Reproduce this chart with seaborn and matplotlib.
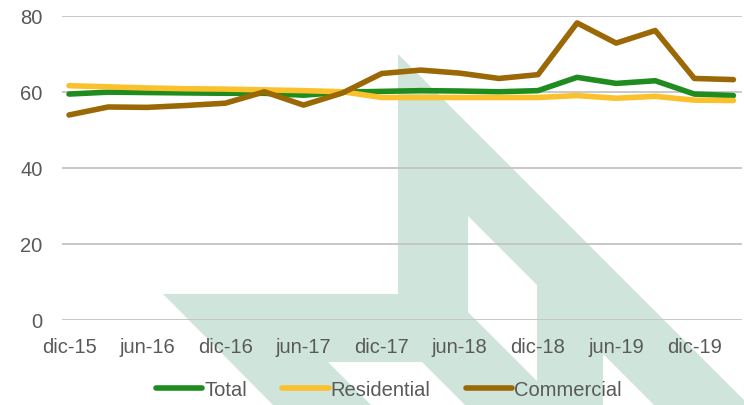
import matplotlib
matplotlib.use("Agg")
import matplotlib.pyplot as plt
import numpy as np
import pandas as pd
import seaborn as sns
from matplotlib.patches import Polygon
from matplotlib.transforms import Affine2D

# Quarterly series, Dec 2015 - Mar 2020
quarters = ["dic-15", "mar-16", "jun-16", "sep-16", "dic-16", "mar-17",
            "jun-17", "sep-17", "dic-17", "mar-18", "jun-18", "sep-18",
            "dic-18", "mar-19", "jun-19", "sep-19", "dic-19", "mar-20"]
total = [59.4, 59.9, 59.8, 59.7, 59.6, 59.6, 59.1, 59.9, 60.1, 60.3,
         60.2, 60.0, 60.3, 63.8, 62.2, 62.9, 59.4, 59.0]
residential = [61.6, 61.3, 61.0, 60.8, 60.7, 60.5, 60.3, 60.0, 58.5, 58.5,
               58.5, 58.5, 58.5, 59.0, 58.3, 58.8, 57.8, 57.7]
commercial = [53.9, 56.0, 55.9, 56.4, 57.0, 60.0, 56.5, 59.7, 64.8, 65.7,
              64.9, 63.5, 64.5, 78.1, 72.8, 76.1, 63.5, 63.2]
series_names = ["Total", "Residential", "Commercial"]
series_colors = ["#1e8c1e", "#fbc12d", "#9a6905"]
tick_labels = quarters[::2]
y_ticks = [0, 20, 40, 60, 80]

sns.set_theme(style="white")
plt.rcParams["font.family"] = ["Liberation Sans", "DejaVu Sans"]
text_color = "#595959"

W, H = 744, 406
fig = plt.figure(figsize=(W / 100, H / 100), dpi=100)
fig.patch.set_facecolor("white")

# light background logo, laid out in pixel units (origin top-left)
px = Affine2D().scale(1 / W, -1 / H).translate(0, 1) + fig.transFigure
logo_color = "#cfe5dc"
outer = [(398, 55), (749, 406), (273, 406), (163, 295), (398, 295)]
holes = [
    [(468, 217), (537, 286), (537, 382), (468, 313)],
    [(328, 363), (422, 363), (465, 406), (371, 406)],
    [(603, 355), (654, 406), (603, 406)],
]
fig.patches.append(Polygon(outer, closed=True, facecolor=logo_color,
                           edgecolor="none", transform=px, zorder=-3))
for hole in holes:
    fig.patches.append(Polygon(hole, closed=True, facecolor="white",
                               edgecolor="none", transform=px, zorder=-2))

ax = fig.add_axes([62 / W, 1 - 321 / H, (742 - 62) / W, (321 - 16.7) / H])
ax.set_facecolor("none")

n = len(quarters)
df = pd.DataFrame({
    "q": np.tile(np.arange(n), 3),
    "value": total + residential + commercial,
    "series": np.repeat(series_names, n),
})
sns.lineplot(data=df, x="q", y="value", hue="series", hue_order=series_names,
             palette=series_colors, linewidth=4, ax=ax, legend=False,
             sort=False, solid_capstyle="round", solid_joinstyle="round",
             zorder=3)

ax.set_xlim(-0.18, n - 1 + 0.22)
ax.set_ylim(0, 80)
ax.set_yticks(y_ticks)
ax.set_xticks(np.arange(0, n, 2))
ax.set_xticklabels(tick_labels)
ax.set_xlabel("")
ax.set_ylabel("")
ax.grid(axis="y", color="#c4c4c4", linewidth=1.3)
ax.grid(axis="x", visible=False)
for s in ax.spines.values():
    s.set_visible(False)
ax.tick_params(axis="both", length=0, labelsize=14.5, colors=text_color)
ax.tick_params(axis="y", pad=14)
ax.tick_params(axis="x", pad=12)

leg = ax.legend(ax.lines[:3], series_names, loc="center",
                bbox_to_anchor=(389 / W, 1 - 391 / H),
                bbox_transform=fig.transFigure, ncol=3, frameon=False,
                fontsize=14.5, handlelength=2.3, handletextpad=0.1,
                columnspacing=1.75, borderpad=0)
for t in leg.get_texts():
    t.set_color(text_color)

fig.savefig("out.png", dpi=100, facecolor="white")
